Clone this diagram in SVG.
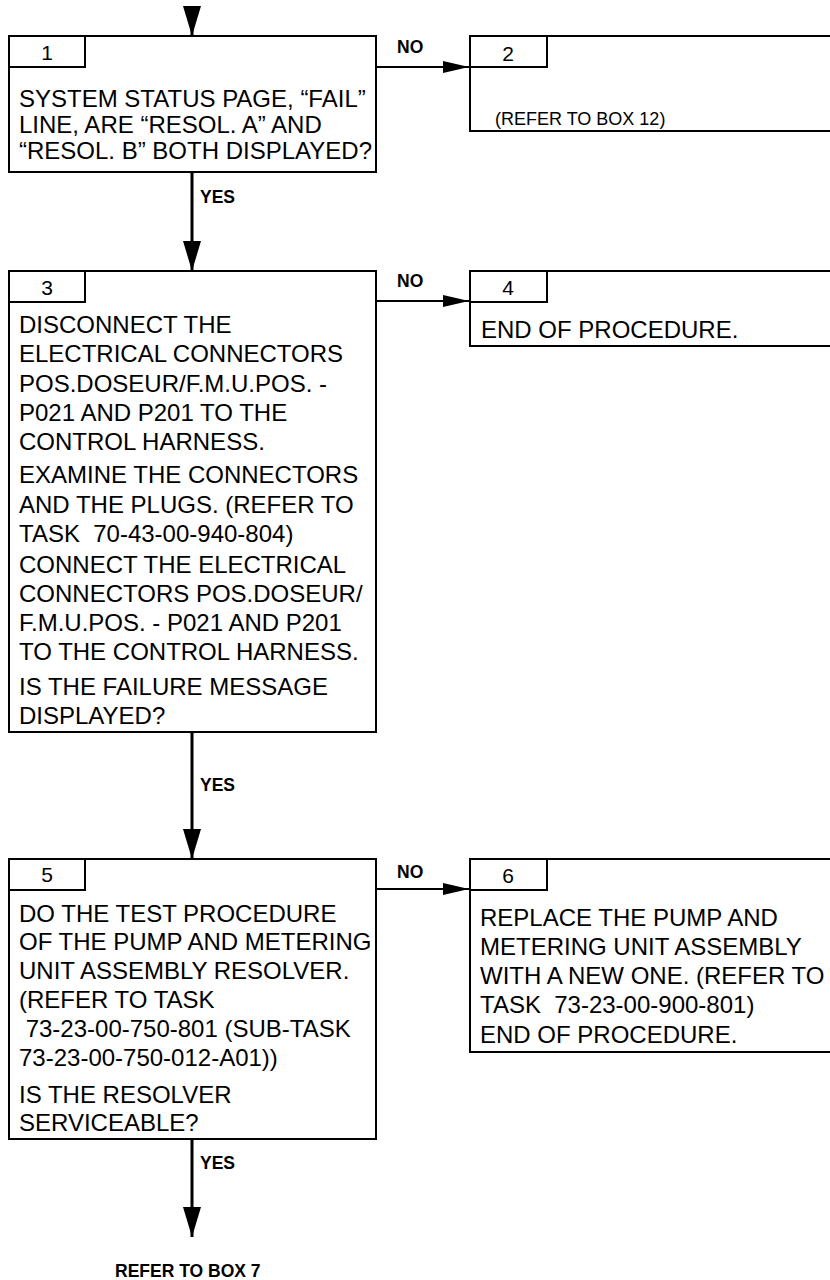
<svg xmlns="http://www.w3.org/2000/svg" width="830" height="1280" viewBox="0 0 830 1280">
<style>
text { font-family: "Liberation Sans", Arial, sans-serif; fill: #000; white-space: pre; }
.box { fill: #fff; stroke: #000; stroke-width: 2; }
.tab { fill: none; stroke: #000; stroke-width: 2; }
.num { font-size: 21px; text-anchor: middle; }
.body { font-size: 24px; }
.small { font-size: 18px; }
.lbl { font-size: 17.5px; font-weight: bold; }
.yes { stroke: #000; stroke-width: 3; fill: none; }
.no { stroke: #000; stroke-width: 2; fill: none; }
</style>
<defs>
<marker id="arrV" markerUnits="userSpaceOnUse" markerWidth="30" markerHeight="18" refX="30" refY="9" orient="auto">
<path d="M0,0 L30,9 L0,18 z" fill="#000"/>
</marker>
<marker id="arrH" markerUnits="userSpaceOnUse" markerWidth="26" markerHeight="12" refX="26" refY="6" orient="auto">
<path d="M0,0 L26,6 L0,12 z" fill="#000"/>
</marker>
</defs>

<g id="connectors">
<line class="yes" x1="192" y1="7" x2="192" y2="36" marker-end="url(#arrV)"/>
<line class="no" x1="376" y1="67" x2="469" y2="67" marker-end="url(#arrH)"/>
<text class="lbl" x="397" y="53">NO</text>
<line class="yes" x1="192" y1="172" x2="192" y2="271" marker-end="url(#arrV)"/>
<text class="lbl" x="200" y="203">YES</text>
<line class="no" x1="376" y1="301" x2="469" y2="301" marker-end="url(#arrH)"/>
<text class="lbl" x="397" y="287">NO</text>
<line class="yes" x1="192" y1="732" x2="192" y2="859" marker-end="url(#arrV)"/>
<text class="lbl" x="200" y="791">YES</text>
<line class="no" x1="376" y1="889" x2="469" y2="889" marker-end="url(#arrH)"/>
<text class="lbl" x="397" y="878">NO</text>
<line class="yes" x1="192" y1="1139" x2="192" y2="1237" marker-end="url(#arrV)"/>
<text class="lbl" x="200" y="1169">YES</text>
<text class="lbl" x="115" y="1277">REFER TO BOX 7</text>
</g>

<g id="box1">
<rect class="box" x="9" y="36" width="367" height="136"/>
<path class="tab" d="M9,67 H85 V36"/>
<text class="num" x="47" y="60">1</text>
<text class="body" x="19" y="107">SYSTEM STATUS PAGE, “FAIL”</text>
<text class="body" x="19" y="133">LINE, ARE “RESOL. A” AND</text>
<text class="body" x="19" y="159">“RESOL. B” BOTH DISPLAYED?</text>
</g>

<g id="box2">
<rect class="box" x="470" y="36" width="370" height="95"/>
<path class="tab" d="M470,67 H547 V36"/>
<text class="num" x="508" y="61">2</text>
<text class="small" x="495" y="125">(REFER TO BOX 12)</text>
</g>

<g id="box3">
<rect class="box" x="9" y="271" width="367" height="461"/>
<path class="tab" d="M9,302 H85 V271"/>
<text class="num" x="47" y="295">3</text>
<text class="body" x="19" y="333">DISCONNECT THE</text>
<text class="body" x="19" y="362">ELECTRICAL CONNECTORS</text>
<text class="body" x="19" y="392">POS.DOSEUR/F.M.U.POS. -</text>
<text class="body" x="19" y="421">P021 AND P201 TO THE</text>
<text class="body" x="19" y="450">CONTROL HARNESS.</text>
<text class="body" x="19" y="483">EXAMINE THE CONNECTORS</text>
<text class="body" x="19" y="513">AND THE PLUGS. (REFER TO</text>
<text class="body" x="19" y="542">TASK  70-43-00-940-804)</text>
<text class="body" x="19" y="573">CONNECT THE ELECTRICAL</text>
<text class="body" x="19" y="602">CONNECTORS POS.DOSEUR/</text>
<text class="body" x="19" y="631">F.M.U.POS. - P021 AND P201</text>
<text class="body" x="19" y="660">TO THE CONTROL HARNESS.</text>
<text class="body" x="19" y="695">IS THE FAILURE MESSAGE</text>
<text class="body" x="19" y="724">DISPLAYED?</text>
</g>

<g id="box4">
<rect class="box" x="470" y="271" width="370" height="75"/>
<path class="tab" d="M470,302 H547 V271"/>
<text class="num" x="508" y="295">4</text>
<text class="body" x="481" y="338">END OF PROCEDURE.</text>
</g>

<g id="box5">
<rect class="box" x="9" y="859" width="367" height="280"/>
<path class="tab" d="M9,890 H85 V859"/>
<text class="num" x="47" y="882">5</text>
<text class="body" x="19" y="922">DO THE TEST PROCEDURE</text>
<text class="body" x="19" y="950">OF THE PUMP AND METERING</text>
<text class="body" x="19" y="979">UNIT ASSEMBLY RESOLVER.</text>
<text class="body" x="19" y="1008">(REFER TO TASK</text>
<text class="body" x="19" y="1037"> 73-23-00-750-801 (SUB-TASK</text>
<text class="body" x="19" y="1066">73-23-00-750-012-A01))</text>
<text class="body" x="19" y="1103">IS THE RESOLVER</text>
<text class="body" x="19" y="1131">SERVICEABLE?</text>
</g>

<g id="box6">
<rect class="box" x="470" y="859" width="370" height="193"/>
<path class="tab" d="M470,890 H547 V859"/>
<text class="num" x="508" y="883">6</text>
<text class="body" x="480" y="926">REPLACE THE PUMP AND</text>
<text class="body" x="480" y="955">METERING UNIT ASSEMBLY</text>
<text class="body" x="480" y="984">WITH A NEW ONE. (REFER TO</text>
<text class="body" x="480" y="1013">TASK  73-23-00-900-801)</text>
<text class="body" x="480" y="1043">END OF PROCEDURE.</text>
</g>
</svg>
